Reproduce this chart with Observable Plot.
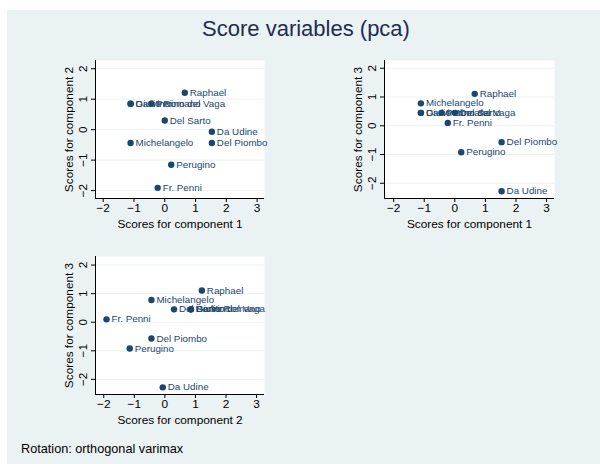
<!DOCTYPE html>
<html>
<head>
<meta charset="utf-8">
<script src="https://cdn.jsdelivr.net/npm/d3@7"></script>
<script src="https://cdn.jsdelivr.net/npm/@observablehq/plot@0.6"></script>
<style>
  html, body { margin: 0; padding: 0; background: #ffffff; }
  #root { position: relative; width: 600px; height: 464px; overflow: hidden; font-family: "Liberation Sans", Arial, Helvetica, sans-serif; }
  #bg { position: absolute; left: 7px; top: 10px; right: 0; bottom: 0; background: #eaf2f3; }
  #title { position: absolute; left: 0; width: 612px; top: 16px; text-align: center; font-size: 22px; line-height: 25px; color: #1f2d50; white-space: nowrap; }
  #caption { position: absolute; left: 21px; top: 442px; font-size: 12.7px; line-height: 15px; color: #000; white-space: nowrap; }
  .panel { position: absolute; }
  .panel svg { overflow: visible; max-width: none !important; }
</style>
</head>
<body>
<div id="root">
  <div id="bg"></div>
  <div id="title">Score variables (pca)</div>
  <div id="caption">Rotation: orthogonal varimax</div>
</div>
<script>
const painters = ["Da Udine", "Da Vinci", "Del Piombo", "Del Sarto", "Fr. Penni", "Giulio Romano", "Michelangelo", "Perino del Vaga", "Perugino", "Raphael"];
const pc1 = [1.53, -1.11, 1.53, 0.00, -0.23, -1.11, -1.11, -0.44, 0.21, 0.65];
const pc2 = [-0.07, 0.85, -0.44, 0.30, -1.91, 0.85, -0.44, 0.85, -1.15, 1.21];
const pc3 = [-2.28, 0.45, -0.57, 0.45, 0.10, 0.45, 0.78, 0.45, -0.92, 1.11];
const xTicks = [-2, -1, 0, 1, 2, 3];
const yTicks = [-2, -1, 0, 1, 2];
const xLabels = ["Scores for component 1", "Scores for component 1", "Scores for component 2"];
const yLabels = ["Scores for component 2", "Scores for component 3", "Scores for component 3"];

const navy = "#1a476f";
const ML = 55, MT = 10, MR = 70, MB = 40;
const FS = 11.8;

function panel(xv, yv, xLabel, yLabel, xDomain, yDomain, frame) {
  const data = painters.map((name, i) => ({name, x: xv[i], y: yv[i]}));
  const [fl, ft, fr, fb] = frame;
  const width = fr - fl + ML + MR;
  const height = fb - ft + MT + MB;
  const svg = Plot.plot({
    width, height,
    marginLeft: ML, marginTop: MT, marginRight: MR, marginBottom: MB,
    x: {domain: xDomain},
    y: {domain: yDomain},
    style: {background: "transparent", fontFamily: "'Liberation Sans', Arial, Helvetica, sans-serif", fontSize: FS + "px", color: "#000", overflow: "visible", maxWidth: "none"},
    marks: [
      Plot.frame({fill: "white", stroke: null}),
      Plot.gridY(yTicks, {stroke: "#eaf2f3", strokeOpacity: 1, strokeWidth: 1}),
      Plot.axisX(xTicks, {tickSize: 4, tickPadding: 1, label: xLabel, labelAnchor: "center", labelOffset: 29, labelArrow: "none", fontSize: FS, stroke: "#000", fill: "#000"}),
      Plot.axisY(yTicks, {tickSize: 4, tickPadding: 5, tickRotate: -90, label: yLabel, labelAnchor: "center", labelOffset: 31, labelArrow: "none", fontSize: FS, stroke: "#000", fill: "#000"}),
      Plot.ruleX([xDomain[0]], {stroke: "#000", strokeWidth: 1}),
      Plot.ruleY([yDomain[0]], {stroke: "#000", strokeWidth: 1}),
      Plot.dot(data, {x: "x", y: "y", r: 3.2, fill: navy, stroke: null}),
      Plot.text(data, {x: "x", y: "y", text: "name", textAnchor: "start", dx: 5, fill: navy, fontSize: 9.8})
    ]
  });
  svg.style.maxWidth = "none";
  const div = document.createElement("div");
  div.className = "panel";
  div.style.left = (fl - ML) + "px";
  div.style.top = (ft - MT) + "px";
  div.style.width = width + "px";
  div.style.height = height + "px";
  div.appendChild(svg);
  document.getElementById("root").appendChild(div);
}

panel(pc1, pc2, xLabels[0], yLabels[0], [-2.25, 3.24], [-2.26, 2.27], [95, 60, 264, 198]);
panel(pc1, pc3, xLabels[1], yLabels[1], [-2.30, 3.26], [-2.53, 2.27], [384, 60, 554, 198]);
panel(pc2, pc3, xLabels[2], yLabels[2], [-2.27, 3.26], [-2.53, 2.30], [95, 256, 264, 394]);
</script>
</body>
</html>
